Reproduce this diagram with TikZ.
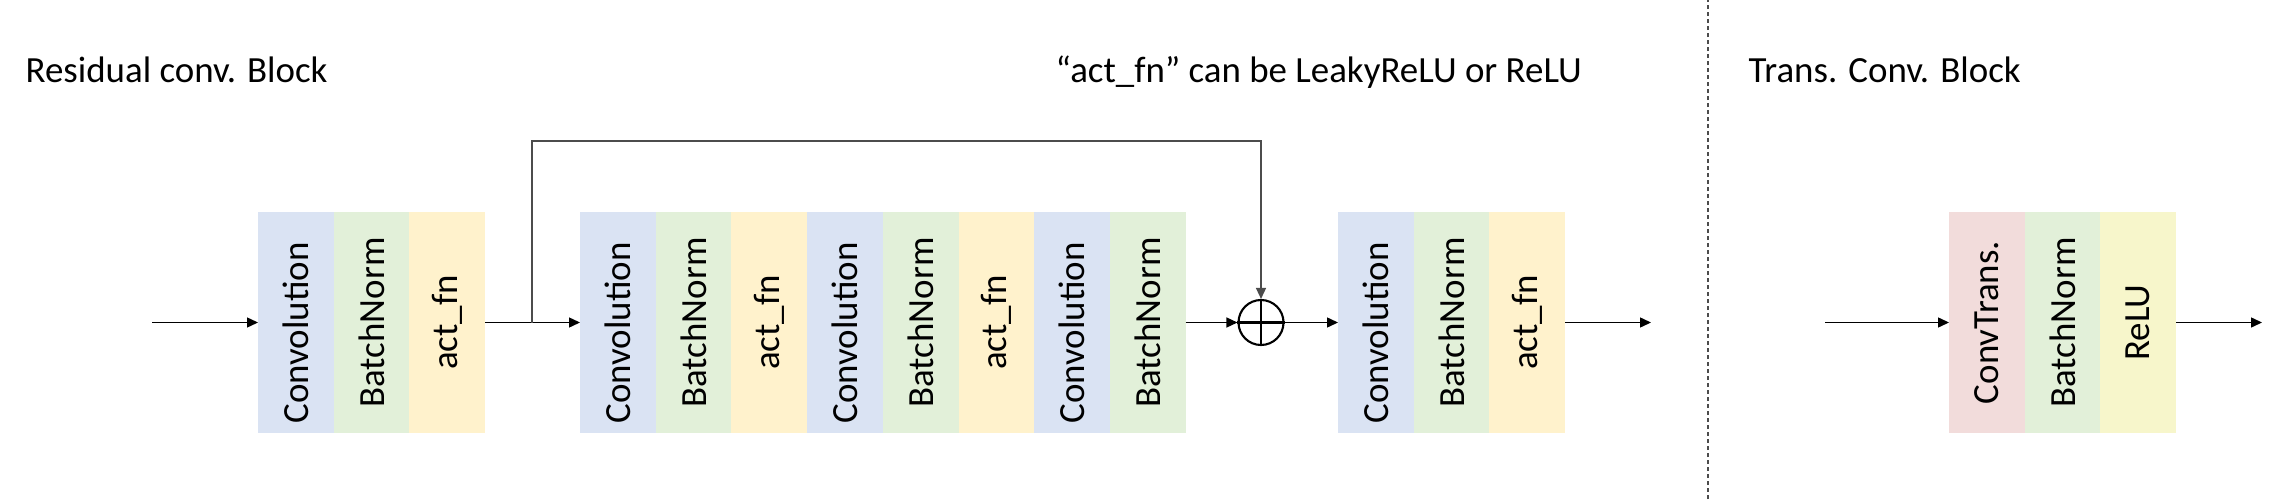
\documentclass[tikz,border=0pt]{standalone}
\usepackage{fontspec}
\setmainfont{Carlito}
\usepackage{graphicx}
\usetikzlibrary{arrows.meta}

\definecolor{convblue}{HTML}{DAE3F3}
\definecolor{bngreen}{HTML}{E2F0D9}
\definecolor{actyellow}{HTML}{FFF2CC}
\definecolor{transpink}{HTML}{F2DCDB}
\definecolor{reluyellow}{HTML}{F7F6CB}

\tikzset{
  cell/.style={minimum width=0.757cm, minimum height=2.21cm, inner sep=0pt, outer sep=0pt, anchor=west},
  conv/.style={cell, fill=convblue},
  bn/.style={cell, fill=bngreen},
  act/.style={cell, fill=actyellow},
  trans/.style={cell, fill=transpink},
  relu/.style={cell, fill=reluyellow},
  title/.style={anchor=base west, inner sep=0pt},
  link/.style={line width=0.4pt, -{Triangle[length=0.11cm,width=0.1cm]}},
  skipline/.style={link, draw=black!70},
  sumnode/.style={circle, draw, line width=0.6pt, minimum size=0.45cm, inner sep=0pt}
}

\begin{document}
\begin{tikzpicture}[font=\fontsize{10.5}{12.6}\selectfont]
\useasboundingbox (0,0) rectangle (22.75,4.99);

% titles
\node[title] (restitle) at (0.25,4.16) {Residual conv. Block};
\node[title] (actnote) at (10.55,4.16) {“act\_fn” can be LeakyReLU or ReLU};
\node[title] (transtitle) at (17.48,4.16) {Trans. Conv. Block};
\draw[black!70, line width=0.4pt, dash pattern=on 0.04cm off 0.03cm] (17.08,0)--(17.08,4.99);

% residual block
\node[conv] (c1) at (2.58,1.765) {\rotatebox{90}{Convolution\hspace{0.21cm}}};
\node[bn] (b1) at (c1.east) {\rotatebox{90}{BatchNorm}};
\node[act] (a1) at (b1.east) {\rotatebox{90}{act\_fn}};

\node[conv] (c2) at (5.80,1.765) {\rotatebox{90}{Convolution\hspace{0.21cm}}};
\node[bn] (b2) at (c2.east) {\rotatebox{90}{BatchNorm}};
\node[act] (a2) at (b2.east) {\rotatebox{90}{act\_fn}};
\node[conv] (c3) at (a2.east) {\rotatebox{90}{Convolution\hspace{0.21cm}}};
\node[bn] (b3) at (c3.east) {\rotatebox{90}{BatchNorm}};
\node[act] (a3) at (b3.east) {\rotatebox{90}{act\_fn}};
\node[conv] (c4) at (a3.east) {\rotatebox{90}{Convolution\hspace{0.21cm}}};
\node[bn] (b4) at (c4.east) {\rotatebox{90}{BatchNorm}};

\node[sumnode] (sum) at (12.61,1.765) {};
\draw[line width=0.6pt] (sum.north)--(sum.south) (sum.west)--(sum.east);

\node[conv] (c5) at (13.38,1.765) {\rotatebox{90}{Convolution\hspace{0.21cm}}};
\node[bn] (b5) at (c5.east) {\rotatebox{90}{BatchNorm}};
\node[act] (a5) at (b5.east) {\rotatebox{90}{act\_fn}};

\coordinate (in1) at (1.52,1.765);
\coordinate (split) at (5.32,1.765);
\coordinate (skiptop) at (5.32,3.58);
\coordinate (out1) at (16.51,1.765);

\draw[link] (in1)--(c1.west);
\draw[link] (a1.east)--(c2.west);
\draw[skipline] (split)--(skiptop)-|(sum.north);
\draw[link] (b4.east)--(sum.west);
\draw[link] (sum.east)--(c5.west);
\draw[link] (a5.east)--(out1);

% trans. conv. block
\node[trans] (t1) at (19.49,1.765) {\rotatebox{90}{ConvTrans.}};
\node[bn] (b6) at (t1.east) {\rotatebox{90}{BatchNorm}};
\node[relu] (r1) at (b6.east) {\rotatebox{90}{ReLU}};

\coordinate (in2) at (18.25,1.765);
\coordinate (out2) at (22.62,1.765);
\draw[link] (in2)--(t1.west);
\draw[link] (r1.east)--(out2);

\end{tikzpicture}
\end{document}
